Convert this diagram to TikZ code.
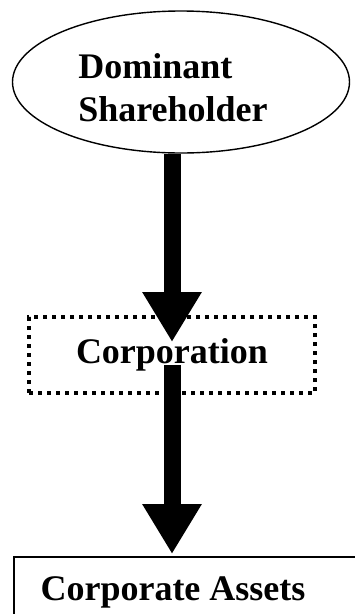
\documentclass[tikz,border=0pt]{standalone}
\usepackage{fontspec}
\setmainfont{Liberation Serif}
\usetikzlibrary{shapes.geometric, arrows.meta}

\begin{document}
\begin{tikzpicture}[x=1pt, y=-1pt,
    bigarrow/.style={line width=17pt, -{Triangle[width=56pt, length=50pt]}},
    boxtext/.style={font=\fontsize{36}{43}\selectfont\bfseries, align=center}]
    \useasboundingbox (0,0) rectangle (354,614);
    % Nodes
    \node[draw, line width=1.4pt, ellipse, minimum width=337pt, minimum height=142pt, inner sep=0pt] (dom) at (181,82) {};
    \node[boxtext, align=left] (domtext) at (173,88) {Dominant\\Shareholder};
    \node[draw, line width=4pt, dash pattern=on 4pt off 5pt, minimum width=286pt, minimum height=76pt, inner sep=0pt] (corp) at (172,355) {};
    \node[boxtext] (corptext) at (corp) {Corporation};
    \node[draw, line width=2pt, anchor=north west, minimum width=360pt, minimum height=80pt, inner sep=0pt] (assets) at (13,556) {};
    \node[boxtext] (assetstext) at (173,592) {Corporate Assets};
    % Arrows
    \draw[bigarrow, shorten >=13pt] (dom.south -| corp.center) -- (corp.center);
    \draw[bigarrow, shorten >=2pt] ([yshift=-10pt]corp.center) -- (assets.north -| corp.center);
\end{tikzpicture}
\end{document}
